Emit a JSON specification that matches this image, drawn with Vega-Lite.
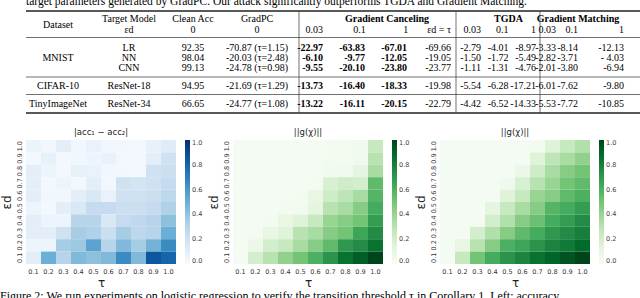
{
"$schema": "https://vega.github.io/schema/vega-lite/v6.json",
"background": "white",
"padding": 0,
"spacing": 9,
"title": {"text": "Figure 2: We run experiments on logistic regression to verify the transition threshold τ in Corollary 1. Left: accuracy", "orient": "bottom", "anchor": "start", "offset": 2, "font": "Liberation Serif", "fontSize": 12, "fontWeight": "normal", "color": "black"},
"datasets": {
"table": [
{"r":0,"c":0,"t":"target parameters generated by GradPC. Our attack significantly outperforms TGDA and Gradient Matching."},
{"r":1,"c":2,"t":"Target Model"},{"r":1,"c":3,"t":"Clean Acc"},{"r":1,"c":4,"t":"GradPC"},
{"r":1,"c":6.5,"t":"Gradient Canceling"},{"r":1,"c":10,"t":"TGDA"},{"r":1,"c":13,"t":"Gradient Matching"},
{"r":1.5,"c":1,"t":"Dataset"},
{"r":2,"c":2,"t":"εd"},{"r":2,"c":3,"t":"0"},{"r":2,"c":4,"t":"0"},{"r":2,"c":5,"t":"0.03"},{"r":2,"c":6,"t":"0.1"},{"r":2,"c":7,"t":"1"},{"r":2,"c":8,"t":"εd = τ"},{"r":2,"c":9,"t":"0.03"},{"r":2,"c":10,"t":"0.1"},{"r":2,"c":11,"t":"1"},{"r":2,"c":12,"t":"0.03"},{"r":2,"c":13,"t":"0.1"},{"r":2,"c":14,"t":"1"},
{"r":4,"c":1,"t":"MNIST"},
{"r":3,"c":2,"t":"LR"},{"r":3,"c":3,"t":"92.35"},{"r":3,"c":4,"t":"-70.87 (τ=1.15)"},{"r":3,"c":5,"t":"-22.97"},{"r":3,"c":6,"t":"-63.83"},{"r":3,"c":7,"t":"-67.01"},{"r":3,"c":8,"t":"-69.66"},{"r":3,"c":9,"t":"-2.79"},{"r":3,"c":10,"t":"-4.01"},{"r":3,"c":11,"t":"-8.97"},{"r":3,"c":12,"t":"-3.33"},{"r":3,"c":13,"t":"-8.14"},{"r":3,"c":14,"t":"-12.13"},
{"r":4,"c":2,"t":"NN"},{"r":4,"c":3,"t":"98.04"},{"r":4,"c":4,"t":"-20.03 (τ=2.48)"},{"r":4,"c":5,"t":"-6.10"},{"r":4,"c":6,"t":"-9.77"},{"r":4,"c":7,"t":"-12.05"},{"r":4,"c":8,"t":"-19.05"},{"r":4,"c":9,"t":"-1.50"},{"r":4,"c":10,"t":"-1.72"},{"r":4,"c":11,"t":"-5.49"},{"r":4,"c":12,"t":"-2.82"},{"r":4,"c":13,"t":"-3.71"},{"r":4,"c":14,"t":"- 4.03"},
{"r":5,"c":2,"t":"CNN"},{"r":5,"c":3,"t":"99.13"},{"r":5,"c":4,"t":"-24.78 (τ=0.98)"},{"r":5,"c":5,"t":"-9.55"},{"r":5,"c":6,"t":"-20.10"},{"r":5,"c":7,"t":"-23.80"},{"r":5,"c":8,"t":"-23.77"},{"r":5,"c":9,"t":"-1.11"},{"r":5,"c":10,"t":"-1.31"},{"r":5,"c":11,"t":"-4.76"},{"r":5,"c":12,"t":"-2.01"},{"r":5,"c":13,"t":"-3.80"},{"r":5,"c":14,"t":"-6.94"},
{"r":6,"c":1,"t":"CIFAR-10"},{"r":6,"c":2,"t":"ResNet-18"},{"r":6,"c":3,"t":"94.95"},{"r":6,"c":4,"t":"-21.69 (τ=1.29)"},{"r":6,"c":5,"t":"-13.73"},{"r":6,"c":6,"t":"-16.40"},{"r":6,"c":7,"t":"-18.33"},{"r":6,"c":8,"t":"-19.98"},{"r":6,"c":9,"t":"-5.54"},{"r":6,"c":10,"t":"-6.28"},{"r":6,"c":11,"t":"-17.21"},{"r":6,"c":12,"t":"-6.01"},{"r":6,"c":13,"t":"-7.62"},{"r":6,"c":14,"t":"-9.80"},
{"r":7,"c":1,"t":"TinyImageNet"},{"r":7,"c":2,"t":"ResNet-34"},{"r":7,"c":3,"t":"66.65"},{"r":7,"c":4,"t":"-24.77 (τ=1.08)"},{"r":7,"c":5,"t":"-13.22"},{"r":7,"c":6,"t":"-16.11"},{"r":7,"c":7,"t":"-20.15"},{"r":7,"c":8,"t":"-22.79"},{"r":7,"c":9,"t":"-4.42"},{"r":7,"c":10,"t":"-6.52"},{"r":7,"c":11,"t":"-14.33"},{"r":7,"c":12,"t":"-5.53"},{"r":7,"c":13,"t":"-7.72"},{"r":7,"c":14,"t":"-10.85"}
],
"hrules": [{"r":0.5},{"r":2.5},{"r":5.5},{"r":6.5},{"r":7.5}],
"vrules": [{"c":4.5},{"c":8.5},{"c":11.5}],
"heat": [
{"m":"A","e":"1.0","t":"0.1","v":0.06},{"m":"A","e":"1.0","t":"0.2","v":0.03},{"m":"A","e":"1.0","t":"0.3","v":0.10},{"m":"A","e":"1.0","t":"0.4","v":0.03},{"m":"A","e":"1.0","t":"0.5","v":0.07},{"m":"A","e":"1.0","t":"0.6","v":0.03},{"m":"A","e":"1.0","t":"0.7","v":0.03},{"m":"A","e":"1.0","t":"0.8","v":0.02},{"m":"A","e":"1.0","t":"0.9","v":0.08},{"m":"A","e":"1.0","t":"1.0","v":0.12},
{"m":"A","e":"0.9","t":"0.1","v":0.02},{"m":"A","e":"0.9","t":"0.2","v":0.08},{"m":"A","e":"0.9","t":"0.3","v":0.02},{"m":"A","e":"0.9","t":"0.4","v":0.04},{"m":"A","e":"0.9","t":"0.5","v":0.05},{"m":"A","e":"0.9","t":"0.6","v":0.07},{"m":"A","e":"0.9","t":"0.7","v":0.03},{"m":"A","e":"0.9","t":"0.8","v":0.02},{"m":"A","e":"0.9","t":"0.9","v":0.10},{"m":"A","e":"0.9","t":"1.0","v":0.20},
{"m":"A","e":"0.8","t":"0.1","v":0.10},{"m":"A","e":"0.8","t":"0.2","v":0.05},{"m":"A","e":"0.8","t":"0.3","v":0.02},{"m":"A","e":"0.8","t":"0.4","v":0.08},{"m":"A","e":"0.8","t":"0.5","v":0.07},{"m":"A","e":"0.8","t":"0.6","v":0.03},{"m":"A","e":"0.8","t":"0.7","v":0.03},{"m":"A","e":"0.8","t":"0.8","v":0.02},{"m":"A","e":"0.8","t":"0.9","v":0.20},{"m":"A","e":"0.8","t":"1.0","v":0.22},
{"m":"A","e":"0.7","t":"0.1","v":0.10},{"m":"A","e":"0.7","t":"0.2","v":0.02},{"m":"A","e":"0.7","t":"0.3","v":0.05},{"m":"A","e":"0.7","t":"0.4","v":0.02},{"m":"A","e":"0.7","t":"0.5","v":0.10},{"m":"A","e":"0.7","t":"0.6","v":0.03},{"m":"A","e":"0.7","t":"0.7","v":0.20},{"m":"A","e":"0.7","t":"0.8","v":0.18},{"m":"A","e":"0.7","t":"0.9","v":0.20},{"m":"A","e":"0.7","t":"1.0","v":0.25},
{"m":"A","e":"0.6","t":"0.1","v":0.10},{"m":"A","e":"0.6","t":"0.2","v":0.03},{"m":"A","e":"0.6","t":"0.3","v":0.03},{"m":"A","e":"0.6","t":"0.4","v":0.10},{"m":"A","e":"0.6","t":"0.5","v":0.15},{"m":"A","e":"0.6","t":"0.6","v":0.07},{"m":"A","e":"0.6","t":"0.7","v":0.20},{"m":"A","e":"0.6","t":"0.8","v":0.20},{"m":"A","e":"0.6","t":"0.9","v":0.22},{"m":"A","e":"0.6","t":"1.0","v":0.28},
{"m":"A","e":"0.5","t":"0.1","v":0.05},{"m":"A","e":"0.5","t":"0.2","v":0.02},{"m":"A","e":"0.5","t":"0.3","v":0.10},{"m":"A","e":"0.5","t":"0.4","v":0.15},{"m":"A","e":"0.5","t":"0.5","v":0.25},{"m":"A","e":"0.5","t":"0.6","v":0.25},{"m":"A","e":"0.5","t":"0.7","v":0.22},{"m":"A","e":"0.5","t":"0.8","v":0.22},{"m":"A","e":"0.5","t":"0.9","v":0.25},{"m":"A","e":"0.5","t":"1.0","v":0.32},
{"m":"A","e":"0.4","t":"0.1","v":0.10},{"m":"A","e":"0.4","t":"0.2","v":0.05},{"m":"A","e":"0.4","t":"0.3","v":0.05},{"m":"A","e":"0.4","t":"0.4","v":0.30},{"m":"A","e":"0.4","t":"0.5","v":0.30},{"m":"A","e":"0.4","t":"0.6","v":0.15},{"m":"A","e":"0.4","t":"0.7","v":0.25},{"m":"A","e":"0.4","t":"0.8","v":0.27},{"m":"A","e":"0.4","t":"0.9","v":0.30},{"m":"A","e":"0.4","t":"1.0","v":0.42},
{"m":"A","e":"0.3","t":"0.1","v":0.10},{"m":"A","e":"0.3","t":"0.2","v":0.10},{"m":"A","e":"0.3","t":"0.3","v":0.20},{"m":"A","e":"0.3","t":"0.4","v":0.35},{"m":"A","e":"0.3","t":"0.5","v":0.32},{"m":"A","e":"0.3","t":"0.6","v":0.22},{"m":"A","e":"0.3","t":"0.7","v":0.35},{"m":"A","e":"0.3","t":"0.8","v":0.28},{"m":"A","e":"0.3","t":"0.9","v":0.30},{"m":"A","e":"0.3","t":"1.0","v":0.50},
{"m":"A","e":"0.2","t":"0.1","v":0.05},{"m":"A","e":"0.2","t":"0.2","v":0.05},{"m":"A","e":"0.2","t":"0.3","v":0.35},{"m":"A","e":"0.2","t":"0.4","v":0.38},{"m":"A","e":"0.2","t":"0.5","v":0.55},{"m":"A","e":"0.2","t":"0.6","v":0.30},{"m":"A","e":"0.2","t":"0.7","v":0.45},{"m":"A","e":"0.2","t":"0.8","v":0.35},{"m":"A","e":"0.2","t":"0.9","v":0.48},{"m":"A","e":"0.2","t":"1.0","v":0.65},
{"m":"A","e":"0.1","t":"0.1","v":0.10},{"m":"A","e":"0.1","t":"0.2","v":0.50},{"m":"A","e":"0.1","t":"0.3","v":0.30},{"m":"A","e":"0.1","t":"0.4","v":0.45},{"m":"A","e":"0.1","t":"0.5","v":0.42},{"m":"A","e":"0.1","t":"0.6","v":0.45},{"m":"A","e":"0.1","t":"0.7","v":0.65},{"m":"A","e":"0.1","t":"0.8","v":0.45},{"m":"A","e":"0.1","t":"0.9","v":0.85},{"m":"A","e":"0.1","t":"1.0","v":0.80},
{"m":"B","e":"1.0","t":"0.1","v":0.02},{"m":"B","e":"1.0","t":"0.2","v":0.02},{"m":"B","e":"1.0","t":"0.3","v":0.02},{"m":"B","e":"1.0","t":"0.4","v":0.02},{"m":"B","e":"1.0","t":"0.5","v":0.02},{"m":"B","e":"1.0","t":"0.6","v":0.02},{"m":"B","e":"1.0","t":"0.7","v":0.03},{"m":"B","e":"1.0","t":"0.8","v":0.03},{"m":"B","e":"1.0","t":"0.9","v":0.05},{"m":"B","e":"1.0","t":"1.0","v":0.25},
{"m":"B","e":"0.9","t":"0.1","v":0.02},{"m":"B","e":"0.9","t":"0.2","v":0.02},{"m":"B","e":"0.9","t":"0.3","v":0.02},{"m":"B","e":"0.9","t":"0.4","v":0.02},{"m":"B","e":"0.9","t":"0.5","v":0.02},{"m":"B","e":"0.9","t":"0.6","v":0.02},{"m":"B","e":"0.9","t":"0.7","v":0.03},{"m":"B","e":"0.9","t":"0.8","v":0.03},{"m":"B","e":"0.9","t":"0.9","v":0.05},{"m":"B","e":"0.9","t":"1.0","v":0.30},
{"m":"B","e":"0.8","t":"0.1","v":0.02},{"m":"B","e":"0.8","t":"0.2","v":0.02},{"m":"B","e":"0.8","t":"0.3","v":0.02},{"m":"B","e":"0.8","t":"0.4","v":0.02},{"m":"B","e":"0.8","t":"0.5","v":0.02},{"m":"B","e":"0.8","t":"0.6","v":0.02},{"m":"B","e":"0.8","t":"0.7","v":0.04},{"m":"B","e":"0.8","t":"0.8","v":0.05},{"m":"B","e":"0.8","t":"0.9","v":0.12},{"m":"B","e":"0.8","t":"1.0","v":0.35},
{"m":"B","e":"0.7","t":"0.1","v":0.02},{"m":"B","e":"0.7","t":"0.2","v":0.02},{"m":"B","e":"0.7","t":"0.3","v":0.02},{"m":"B","e":"0.7","t":"0.4","v":0.02},{"m":"B","e":"0.7","t":"0.5","v":0.02},{"m":"B","e":"0.7","t":"0.6","v":0.03},{"m":"B","e":"0.7","t":"0.7","v":0.18},{"m":"B","e":"0.7","t":"0.8","v":0.22},{"m":"B","e":"0.7","t":"0.9","v":0.20},{"m":"B","e":"0.7","t":"1.0","v":0.55},
{"m":"B","e":"0.6","t":"0.1","v":0.02},{"m":"B","e":"0.6","t":"0.2","v":0.02},{"m":"B","e":"0.6","t":"0.3","v":0.02},{"m":"B","e":"0.6","t":"0.4","v":0.02},{"m":"B","e":"0.6","t":"0.5","v":0.03},{"m":"B","e":"0.6","t":"0.6","v":0.10},{"m":"B","e":"0.6","t":"0.7","v":0.22},{"m":"B","e":"0.6","t":"0.8","v":0.28},{"m":"B","e":"0.6","t":"0.9","v":0.35},{"m":"B","e":"0.6","t":"1.0","v":0.58},
{"m":"B","e":"0.5","t":"0.1","v":0.02},{"m":"B","e":"0.5","t":"0.2","v":0.02},{"m":"B","e":"0.5","t":"0.3","v":0.02},{"m":"B","e":"0.5","t":"0.4","v":0.03},{"m":"B","e":"0.5","t":"0.5","v":0.04},{"m":"B","e":"0.5","t":"0.6","v":0.12},{"m":"B","e":"0.5","t":"0.7","v":0.30},{"m":"B","e":"0.5","t":"0.8","v":0.35},{"m":"B","e":"0.5","t":"0.9","v":0.45},{"m":"B","e":"0.5","t":"1.0","v":0.62},
{"m":"B","e":"0.4","t":"0.1","v":0.02},{"m":"B","e":"0.4","t":"0.2","v":0.02},{"m":"B","e":"0.4","t":"0.3","v":0.03},{"m":"B","e":"0.4","t":"0.4","v":0.10},{"m":"B","e":"0.4","t":"0.5","v":0.15},{"m":"B","e":"0.4","t":"0.6","v":0.25},{"m":"B","e":"0.4","t":"0.7","v":0.40},{"m":"B","e":"0.4","t":"0.8","v":0.45},{"m":"B","e":"0.4","t":"0.9","v":0.50},{"m":"B","e":"0.4","t":"1.0","v":0.68},
{"m":"B","e":"0.3","t":"0.1","v":0.02},{"m":"B","e":"0.3","t":"0.2","v":0.03},{"m":"B","e":"0.3","t":"0.3","v":0.10},{"m":"B","e":"0.3","t":"0.4","v":0.15},{"m":"B","e":"0.3","t":"0.5","v":0.30},{"m":"B","e":"0.3","t":"0.6","v":0.35},{"m":"B","e":"0.3","t":"0.7","v":0.45},{"m":"B","e":"0.3","t":"0.8","v":0.50},{"m":"B","e":"0.3","t":"0.9","v":0.65},{"m":"B","e":"0.3","t":"1.0","v":0.75},
{"m":"B","e":"0.2","t":"0.1","v":0.02},{"m":"B","e":"0.2","t":"0.2","v":0.08},{"m":"B","e":"0.2","t":"0.3","v":0.20},{"m":"B","e":"0.2","t":"0.4","v":0.25},{"m":"B","e":"0.2","t":"0.5","v":0.35},{"m":"B","e":"0.2","t":"0.6","v":0.45},{"m":"B","e":"0.2","t":"0.7","v":0.55},{"m":"B","e":"0.2","t":"0.8","v":0.70},{"m":"B","e":"0.2","t":"0.9","v":0.75},{"m":"B","e":"0.2","t":"1.0","v":0.85},
{"m":"B","e":"0.1","t":"0.1","v":0.02},{"m":"B","e":"0.1","t":"0.2","v":0.20},{"m":"B","e":"0.1","t":"0.3","v":0.30},{"m":"B","e":"0.1","t":"0.4","v":0.42},{"m":"B","e":"0.1","t":"0.5","v":0.50},{"m":"B","e":"0.1","t":"0.6","v":0.60},{"m":"B","e":"0.1","t":"0.7","v":0.72},{"m":"B","e":"0.1","t":"0.8","v":0.85},{"m":"B","e":"0.1","t":"0.9","v":0.92},{"m":"B","e":"0.1","t":"1.0","v":1.00},
{"m":"C","e":"1.0","t":"0.1","v":0.02},{"m":"C","e":"1.0","t":"0.2","v":0.02},{"m":"C","e":"1.0","t":"0.3","v":0.02},{"m":"C","e":"1.0","t":"0.4","v":0.02},{"m":"C","e":"1.0","t":"0.5","v":0.02},{"m":"C","e":"1.0","t":"0.6","v":0.02},{"m":"C","e":"1.0","t":"0.7","v":0.03},{"m":"C","e":"1.0","t":"0.8","v":0.15},{"m":"C","e":"1.0","t":"0.9","v":0.25},{"m":"C","e":"1.0","t":"1.0","v":0.32},
{"m":"C","e":"0.9","t":"0.1","v":0.02},{"m":"C","e":"0.9","t":"0.2","v":0.02},{"m":"C","e":"0.9","t":"0.3","v":0.02},{"m":"C","e":"0.9","t":"0.4","v":0.02},{"m":"C","e":"0.9","t":"0.5","v":0.02},{"m":"C","e":"0.9","t":"0.6","v":0.02},{"m":"C","e":"0.9","t":"0.7","v":0.15},{"m":"C","e":"0.9","t":"0.8","v":0.28},{"m":"C","e":"0.9","t":"0.9","v":0.35},{"m":"C","e":"0.9","t":"1.0","v":0.42},
{"m":"C","e":"0.8","t":"0.1","v":0.02},{"m":"C","e":"0.8","t":"0.2","v":0.02},{"m":"C","e":"0.8","t":"0.3","v":0.02},{"m":"C","e":"0.8","t":"0.4","v":0.02},{"m":"C","e":"0.8","t":"0.5","v":0.02},{"m":"C","e":"0.8","t":"0.6","v":0.08},{"m":"C","e":"0.8","t":"0.7","v":0.22},{"m":"C","e":"0.8","t":"0.8","v":0.35},{"m":"C","e":"0.8","t":"0.9","v":0.45},{"m":"C","e":"0.8","t":"1.0","v":0.50},
{"m":"C","e":"0.7","t":"0.1","v":0.02},{"m":"C","e":"0.7","t":"0.2","v":0.02},{"m":"C","e":"0.7","t":"0.3","v":0.02},{"m":"C","e":"0.7","t":"0.4","v":0.02},{"m":"C","e":"0.7","t":"0.5","v":0.05},{"m":"C","e":"0.7","t":"0.6","v":0.18},{"m":"C","e":"0.7","t":"0.7","v":0.30},{"m":"C","e":"0.7","t":"0.8","v":0.40},{"m":"C","e":"0.7","t":"0.9","v":0.50},{"m":"C","e":"0.7","t":"1.0","v":0.55},
{"m":"C","e":"0.6","t":"0.1","v":0.02},{"m":"C","e":"0.6","t":"0.2","v":0.02},{"m":"C","e":"0.6","t":"0.3","v":0.02},{"m":"C","e":"0.6","t":"0.4","v":0.02},{"m":"C","e":"0.6","t":"0.5","v":0.15},{"m":"C","e":"0.6","t":"0.6","v":0.25},{"m":"C","e":"0.6","t":"0.7","v":0.40},{"m":"C","e":"0.6","t":"0.8","v":0.45},{"m":"C","e":"0.6","t":"0.9","v":0.55},{"m":"C","e":"0.6","t":"1.0","v":0.60},
{"m":"C","e":"0.5","t":"0.1","v":0.02},{"m":"C","e":"0.5","t":"0.2","v":0.02},{"m":"C","e":"0.5","t":"0.3","v":0.02},{"m":"C","e":"0.5","t":"0.4","v":0.12},{"m":"C","e":"0.5","t":"0.5","v":0.25},{"m":"C","e":"0.5","t":"0.6","v":0.35},{"m":"C","e":"0.5","t":"0.7","v":0.45},{"m":"C","e":"0.5","t":"0.8","v":0.58},{"m":"C","e":"0.5","t":"0.9","v":0.62},{"m":"C","e":"0.5","t":"1.0","v":0.68},
{"m":"C","e":"0.4","t":"0.1","v":0.02},{"m":"C","e":"0.4","t":"0.2","v":0.02},{"m":"C","e":"0.4","t":"0.3","v":0.02},{"m":"C","e":"0.4","t":"0.4","v":0.20},{"m":"C","e":"0.4","t":"0.5","v":0.32},{"m":"C","e":"0.4","t":"0.6","v":0.45},{"m":"C","e":"0.4","t":"0.7","v":0.52},{"m":"C","e":"0.4","t":"0.8","v":0.62},{"m":"C","e":"0.4","t":"0.9","v":0.68},{"m":"C","e":"0.4","t":"1.0","v":0.75},
{"m":"C","e":"0.3","t":"0.1","v":0.02},{"m":"C","e":"0.3","t":"0.2","v":0.02},{"m":"C","e":"0.3","t":"0.3","v":0.20},{"m":"C","e":"0.3","t":"0.4","v":0.32},{"m":"C","e":"0.3","t":"0.5","v":0.45},{"m":"C","e":"0.3","t":"0.6","v":0.55},{"m":"C","e":"0.3","t":"0.7","v":0.62},{"m":"C","e":"0.3","t":"0.8","v":0.70},{"m":"C","e":"0.3","t":"0.9","v":0.75},{"m":"C","e":"0.3","t":"1.0","v":0.80},
{"m":"C","e":"0.2","t":"0.1","v":0.02},{"m":"C","e":"0.2","t":"0.2","v":0.10},{"m":"C","e":"0.2","t":"0.3","v":0.30},{"m":"C","e":"0.2","t":"0.4","v":0.45},{"m":"C","e":"0.2","t":"0.5","v":0.60},{"m":"C","e":"0.2","t":"0.6","v":0.65},{"m":"C","e":"0.2","t":"0.7","v":0.72},{"m":"C","e":"0.2","t":"0.8","v":0.78},{"m":"C","e":"0.2","t":"0.9","v":0.82},{"m":"C","e":"0.2","t":"1.0","v":0.88},
{"m":"C","e":"0.1","t":"0.1","v":0.02},{"m":"C","e":"0.1","t":"0.2","v":0.25},{"m":"C","e":"0.1","t":"0.3","v":0.50},{"m":"C","e":"0.1","t":"0.4","v":0.62},{"m":"C","e":"0.1","t":"0.5","v":0.72},{"m":"C","e":"0.1","t":"0.6","v":0.78},{"m":"C","e":"0.1","t":"0.7","v":0.85},{"m":"C","e":"0.1","t":"0.8","v":0.90},{"m":"C","e":"0.1","t":"0.9","v":0.95},{"m":"C","e":"0.1","t":"1.0","v":1.00}
]
},
"vconcat": [
{
"width": 640, "height": 118,
"resolve": {"scale": {"x": "independent"}},
"layer": [
{"data": {"name": "hrules"}, "transform": [{"filter": "datum.r == 0.5 || datum.r == 7.5"}],
 "mark": {"type": "rule", "color": "#222", "strokeWidth": 1.3},
 "encoding": {
  "y": {"field": "r", "type": "quantitative", "axis": null, "scale": {"domain": [0,0.5,1,2,2.5,3,5,5.5,6,6.5,7,7.5], "range": [2,11,19,30,37.5,48,68,77,85.5,94.5,103.5,113], "nice": false, "zero": false}},
  "x": {"datum": 0, "type": "quantitative", "axis": null, "scale": {"domain": [0,15], "range": [0,636], "nice": false, "zero": false}},
  "x2": {"datum": 15}
 }},
{"data": {"name": "hrules"}, "transform": [{"filter": "datum.r != 0.5 && datum.r != 7.5"}],
 "mark": {"type": "rule", "color": "#333", "strokeWidth": 0.7},
 "encoding": {
  "y": {"field": "r", "type": "quantitative", "axis": null},
  "x": {"datum": 0, "type": "quantitative", "axis": null, "scale": {"domain": [0,15], "range": [0,636], "nice": false, "zero": false}},
  "x2": {"datum": 15}
 }},
{"data": {"name": "vrules"},
 "mark": {"type": "rule", "color": "#333", "strokeWidth": 0.7},
 "encoding": {
  "x": {"field": "c", "type": "quantitative", "axis": null, "scale": {"domain": [0,1,4,4.5,5,8,8.5,9,11,11.5,12], "range": [0,32,231,273,297,425,430,455,510,514,540], "nice": false, "zero": false}},
  "y": {"datum": 0.5, "type": "quantitative", "axis": null},
  "y2": {"datum": 7.5}
 }},
{"data": {"name": "table"}, "transform": [{"filter": "datum.c == 0"}],
 "mark": {"type": "text", "align": "left", "baseline": "middle", "font": "Liberation Serif", "fontSize": 11.5, "color": "black", "clip": true},
 "encoding": {
  "x": {"field": "c", "type": "quantitative", "axis": null, "scale": {"domain": [0,1], "range": [0,32], "nice": false, "zero": false}},
  "y": {"field": "r", "type": "quantitative", "axis": null},
  "text": {"field": "t"}
 }},
{"data": {"name": "table"}, "transform": [{"filter": "datum.c >= 1 && datum.c <= 4"}],
 "mark": {"type": "text", "align": "center", "baseline": "middle", "font": "Liberation Serif", "fontSize": 10, "color": "black"},
 "encoding": {
  "x": {"field": "c", "type": "quantitative", "axis": null, "scale": {"domain": [1,2,3,4], "range": [32,103,167,231], "nice": false, "zero": false}},
  "y": {"field": "r", "type": "quantitative", "axis": null},
  "text": {"field": "t"}
 }},
{"data": {"name": "table"}, "transform": [{"filter": "datum.c >= 5 && datum.c < 12 && datum.r == 1"}],
 "mark": {"type": "text", "align": "center", "baseline": "middle", "font": "Liberation Serif", "fontSize": 10, "fontWeight": "bold", "color": "black"},
 "encoding": {
  "x": {"field": "c", "type": "quantitative", "axis": null, "scale": {"domain": [5,8,8.5,9,11], "range": [297,425,430,455,510], "nice": false, "zero": false}},
  "y": {"field": "r", "type": "quantitative", "axis": null},
  "text": {"field": "t"}
 }},
{"data": {"name": "table"}, "transform": [{"filter": "datum.c >= 5 && datum.c < 12 && datum.r >= 2 && !(datum.c <= 7 && datum.r >= 3)"}],
 "mark": {"type": "text", "align": "right", "baseline": "middle", "font": "Liberation Serif", "fontSize": 10, "color": "black"},
 "encoding": {
  "x": {"field": "c", "type": "quantitative", "axis": null, "scale": {"domain": [5,8,9,11], "range": [297,425,455,510], "nice": false, "zero": false}},
  "y": {"field": "r", "type": "quantitative", "axis": null},
  "text": {"field": "t"}
 }},
{"data": {"name": "table"}, "transform": [{"filter": "datum.c >= 5 && datum.c <= 7 && datum.r >= 3"}],
 "mark": {"type": "text", "align": "right", "baseline": "middle", "font": "Liberation Serif", "fontSize": 10, "fontWeight": "bold", "color": "black"},
 "encoding": {
  "x": {"field": "c", "type": "quantitative", "axis": null, "scale": {"domain": [5,7], "range": [297,381], "nice": false, "zero": false}},
  "y": {"field": "r", "type": "quantitative", "axis": null},
  "text": {"field": "t"}
 }},
{"data": {"name": "table"}, "transform": [{"filter": "datum.c >= 12 && datum.r >= 2"}],
 "mark": {"type": "text", "align": "right", "baseline": "middle", "font": "Liberation Serif", "fontSize": 10, "color": "black"},
 "encoding": {
  "x": {"field": "c", "type": "quantitative", "axis": null, "scale": {"domain": [12,13,14], "range": [530,552,598], "nice": false, "zero": false}},
  "y": {"field": "r", "type": "quantitative", "axis": null},
  "text": {"field": "t"}
 }},
{"data": {"name": "table"}, "transform": [{"filter": "datum.c >= 12 && datum.r == 1"}],
 "mark": {"type": "text", "align": "center", "baseline": "middle", "font": "Liberation Serif", "fontSize": 10, "fontWeight": "bold", "color": "black"},
 "encoding": {
  "x": {"field": "c", "type": "quantitative", "axis": null, "scale": {"domain": [12,13,14], "range": [530,552,598], "nice": false, "zero": false}},
  "y": {"field": "r", "type": "quantitative", "axis": null},
  "text": {"field": "t"}
 }}
]
},
{
"hconcat": [
{"width": 150, "height": 124, "data": {"name": "heat"}, "transform": [{"filter": "datum.m == 'A'"}],
 "title": {"text": "|acc₁ − acc₂|"},
 "mark": {"type": "rect"},
 "encoding": {
  "x": {"field": "t", "type": "ordinal", "title": "τ", "sort": "ascending", "scale": {"paddingInner": 0, "paddingOuter": 0}},
  "y": {"field": "e", "type": "ordinal", "title": "εd", "sort": "descending", "scale": {"paddingInner": 0, "paddingOuter": 0}},
  "color": {"field": "v", "type": "quantitative", "scale": {"domain": [0,0.125,0.25,0.375,0.5,0.625,0.75,0.875,1], "range": ["#f7fbff","#deebf7","#c6dbef","#9ecae1","#6baed6","#4292c6","#2171b5","#08519c","#08306b"]}, "legend": {"values": [0,0.2,0.4,0.6,0.8,1]}}
 }},
{"width": 150, "height": 124, "data": {"name": "heat"}, "transform": [{"filter": "datum.m == 'B'"}],
 "title": {"text": "||g(χ)||"},
 "mark": {"type": "rect"},
 "encoding": {
  "x": {"field": "t", "type": "ordinal", "title": "τ", "sort": "ascending", "scale": {"paddingInner": 0, "paddingOuter": 0}},
  "y": {"field": "e", "type": "ordinal", "title": "εd", "sort": "descending", "scale": {"paddingInner": 0, "paddingOuter": 0}},
  "color": {"field": "v", "type": "quantitative", "scale": {"domain": [0,0.125,0.25,0.375,0.5,0.625,0.75,0.875,1], "range": ["#f7fcf5","#e5f5e0","#c7e9c0","#a1d99b","#74c476","#41ab5d","#238b45","#006d2c","#00441b"]}, "legend": {"values": [0,0.2,0.4,0.6,0.8,1]}}
 }},
{"width": 150, "height": 124, "data": {"name": "heat"}, "transform": [{"filter": "datum.m == 'C'"}],
 "title": {"text": "||g(χ)||"},
 "mark": {"type": "rect"},
 "encoding": {
  "x": {"field": "t", "type": "ordinal", "title": "τ", "sort": "ascending", "scale": {"paddingInner": 0, "paddingOuter": 0}},
  "y": {"field": "e", "type": "ordinal", "title": "εd", "sort": "descending", "scale": {"paddingInner": 0, "paddingOuter": 0}},
  "color": {"field": "v", "type": "quantitative", "scale": {"domain": [0,0.125,0.25,0.375,0.5,0.625,0.75,0.875,1], "range": ["#f7fcf5","#e5f5e0","#c7e9c0","#a1d99b","#74c476","#41ab5d","#238b45","#006d2c","#00441b"]}, "legend": {"values": [0,0.2,0.4,0.6,0.8,1]}}
 }}
],
"spacing": 4,
"resolve": {"scale": {"color": "independent", "x": "independent", "y": "independent"}, "legend": {"color": "independent"}}
}
],
"config": {
 "view": {"stroke": null},
 "axis": {"domain": false, "grid": false, "ticks": false, "labelFont": "DejaVu Sans", "labelFontSize": 6.5, "labelColor": "#333", "labelPadding": 4, "titleFont": "DejaVu Sans", "titleFontSize": 12, "titleFontWeight": "normal", "titleColor": "#222", "titlePadding": 3},
 "axisX": {"labelAngle": 0},
 "axisY": {"labelAngle": 270},
 "title": {"font": "DejaVu Sans", "fontSize": 8.5, "fontWeight": "normal", "color": "#222", "offset": 4},
 "legend": {"title": null, "orient": "right", "offset": 9, "gradientLength": 124, "gradientThickness": 5, "format": ".1f", "labelFont": "DejaVu Sans", "labelFontSize": 6.5, "labelColor": "#444", "labelOverlap": false, "gradientStrokeWidth": 0, "labelOffset": 4}
}
}
